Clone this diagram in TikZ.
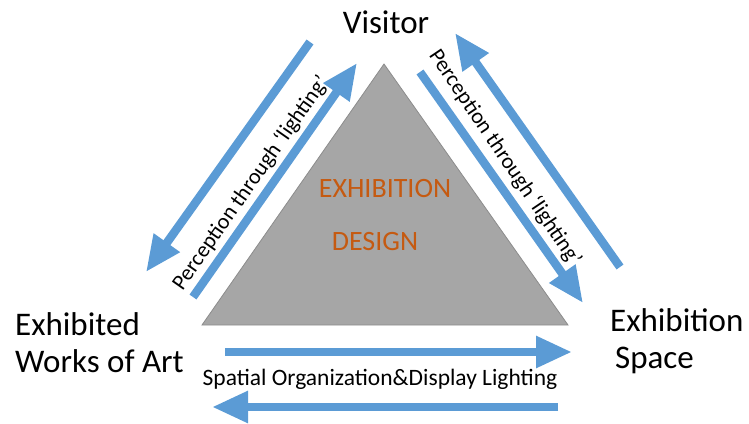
\documentclass[tikz,border=0pt]{standalone}
\usepackage{fontspec}
\setmainfont{Carlito}
\usetikzlibrary{arrows.meta}
\definecolor{arrowblue}{HTML}{5B9BD5}
\definecolor{trigray}{HTML}{A6A6A6}
\definecolor{triedge}{HTML}{8C8C8C}
\definecolor{designorange}{HTML}{C55A11}
\tikzset{
  flow/.style={draw=arrowblue, line width=8.5pt, -{Triangle[width=30pt,length=36pt]}, arrowblue},
  big/.style={font=\fontsize{33}{37}\selectfont, inner sep=0pt, align=left},
  mid/.style={font=\fontsize{28}{32}\selectfont, text=designorange, inner sep=0pt},
  small/.style={font=\fontsize{22}{25}\selectfont, inner sep=0pt},
}
\begin{document}
\begin{tikzpicture}[x=1pt,y=-1pt]
\useasboundingbox (0,0) rectangle (749,423);
% triangle
\draw[fill=trigray, draw=triedge, line width=0.8pt] (384,64) -- (202,325) -- (568,325) -- cycle;
% labels
\node[big, anchor=base] (visitor) at (386,33) {Visitor};
\node[big, anchor=base west] (art) at (15,372) {Exhibited\\Works of Art};
\node[big, anchor=base west] (space) at (610,368) {Exhibition\\\hspace{5pt}Space};
\node[mid, anchor=base] (exh) at (385,197) {EXHIBITION};
\node[mid, anchor=base] (des) at (375,250) {DESIGN};
\node[small, anchor=base, font=\fontsize{23.5}{27}\selectfont] (spatial) at (380,385) {Spatial Organization\&Display Lighting};
\node[small, rotate=55] (percL) at (251,183) {Perception through ‘lighting’};
\node[small, rotate=-56] (percR) at (505,158) {Perception through ‘lighting’};
% arrow ends
\coordinate (l1s) at (310,42);  \coordinate (l1e) at (146,272);
\coordinate (l2s) at (193,297); \coordinate (l2e) at (357,63);
\coordinate (r1s) at (620,267); \coordinate (r1e) at (455,33);
\coordinate (r2s) at (420,72);  \coordinate (r2e) at (583,303);
\coordinate (b1s) at (225,352); \coordinate (b1e) at (572,352);
\coordinate (b2s) at (558,407); \coordinate (b2e) at (212,407);
\draw[flow] (l1s) -- (l1e);
\draw[flow] (l2s) -- (l2e);
\draw[flow] (r1s) -- (r1e);
\draw[flow] (r2s) -- (r2e);
\draw[flow] (b1s) -- (b1e);
\draw[flow] (b2s) -- (b2e);
\end{tikzpicture}
\end{document}
